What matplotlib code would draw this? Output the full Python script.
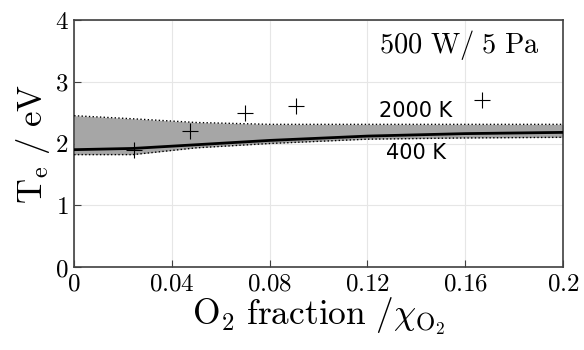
import matplotlib
matplotlib.use("Agg")
from matplotlib import pyplot as plt
import numpy as np

plt.rcParams['mathtext.fontset'] = 'cm'
plt.rcParams['font.family'] = 'serif'
plt.rcParams['font.serif'] = ['DejaVu Serif']

# model line and band (400 K / 2000 K)
x_model = [0.0, 0.024, 0.05, 0.08, 0.12, 0.16, 0.2]
te_model = [1.90, 1.92, 1.98, 2.05, 2.12, 2.16, 2.18]
te_400 = [1.82, 1.82, 1.93, 2.00, 2.07, 2.09, 2.10]
te_2000 = [2.45, 2.40, 2.34, 2.31, 2.31, 2.31, 2.31]

# measurements
x_meas = [0.0245, 0.0474, 0.070, 0.0908, 0.167]
te_meas = [1.89, 2.20, 2.49, 2.61, 2.70]

fig = plt.figure(figsize=(5.84, 3.5), dpi=100)
ax = fig.add_axes([0.127, 0.237, 0.837, 0.706])

ax.fill_between(x_model, te_400, te_2000, color='#a6a6a6', lw=0, zorder=2)
ax.plot(x_model, te_2000, ls=':', color='black', lw=1.0, zorder=3)
ax.plot(x_model, te_400, ls=':', color='black', lw=1.0, zorder=3)
ax.plot(x_model, te_model, color='black', lw=2.0, zorder=4)
ax.plot(x_meas, te_meas, '+', color='black', ms=12, mew=0.8, zorder=5)

ax.text(0.1397, 2.53, '2000 K', family='DejaVu Sans', fontsize=15, ha='center', va='center')
ax.text(0.140, 1.85, '400 K', family='DejaVu Sans', fontsize=15, ha='center', va='center')
ax.text(0.1906, 3.6, r'$\mathrm{500\ W/\ 5\ Pa}$', fontsize=20.5, ha='right', va='center')

ax.set_xlim(0, 0.2)
ax.set_ylim(0, 4)
xt = [0, 0.04, 0.08, 0.12, 0.16, 0.2]
ax.set_xticks(xt)
ax.set_xticklabels([r'$0$', r'$0.04$', r'$0.08$', r'$0.12$', r'$0.16$', r'$0.2$'])
ax.set_yticks([0, 1, 2, 3, 4])
ax.set_yticklabels([r'$0$', r'$1$', r'$2$', r'$3$', r'$4$'])
ax.tick_params(direction='in', labelsize=18, length=5, color='#404040', pad=4)
ax.grid(True, color='#e6e6e6', lw=0.8, zorder=0)
ax.set_axisbelow(True)
for s in ax.spines.values():
    s.set_color('#404040')
    s.set_linewidth(1.2)

ax.set_xlabel(r'$\mathrm{O_2\ fraction\ /}\chi_{\mathrm{O_2}}$', fontsize=25.5, labelpad=0)
ax.set_ylabel(r'$\mathrm{T_e\ /\ eV}$', fontsize=25, labelpad=2)

plt.savefig('out.png', dpi=100)
